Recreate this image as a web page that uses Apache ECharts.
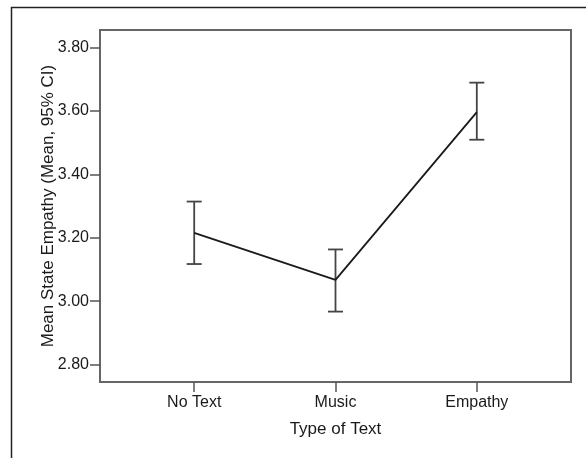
<!DOCTYPE html>
<html>
<head>
<meta charset="utf-8">
<script src="https://cdn.jsdelivr.net/npm/echarts@6/dist/echarts.min.js"></script>
<style>
html,body{margin:0;padding:0;background:#fff;}
#chart{width:586px;height:458px;}
</style>
</head>
<body>
<div id="chart"></div>
<script>
// Data
var categories = ['No Text', 'Music', 'Empathy'];
var means = [3.215, 3.067, 3.596];
var ciLower = [3.117, 2.967, 3.509];
var ciUpper = [3.314, 3.163, 3.689];
var yTicks = [2.8, 3.0, 3.2, 3.4, 3.6, 3.8];
var xTicks = [1, 2, 3];

var FONT = '"Liberation Sans", Arial, sans-serif';
var chart = echarts.init(document.getElementById('chart'), null, {renderer: 'canvas'});

var lineData = means.map(function (m, i) { return [xTicks[i], m]; });
var errData = ciLower.map(function (lo, i) { return [xTicks[i], lo, ciUpper[i]]; });

chart.setOption({
  animation: false,
  backgroundColor: '#fff',
  graphic: [{
    type: 'rect',
    left: 9, top: 5,
    shape: {width: 700, height: 600},
    style: {fill: 'none', stroke: '#222', lineWidth: 1.5},
    silent: true,
    z: -10
  }],
  grid: {
    left: 100, top: 30, right: 15, bottom: 76,
    show: true, borderColor: '#666', borderWidth: 2, backgroundColor: '#fff'
  },
  xAxis: {
    type: 'value',
    min: 1 / 3, max: 11 / 3,
    name: 'Type of Text',
    nameLocation: 'middle',
    nameGap: 39,
    nameMoveOverlap: false,
    nameTextStyle: {fontFamily: FONT, fontSize: 17, color: '#1a1a1a'},
    axisLine: {show: false},
    axisTick: {show: true, length: 10, inside: false, customValues: xTicks, lineStyle: {color: '#555', width: 1.5}},
    axisLabel: {
      customValues: xTicks, margin: 13,
      fontFamily: FONT, fontSize: 16, color: '#1a1a1a',
      formatter: function (v) { return categories[Math.round(v) - 1] || ''; }
    },
    splitLine: {show: false}
  },
  yAxis: {
    type: 'value',
    min: 2.745, max: 3.855,
    name: 'Mean State Empathy (Mean, 95% CI)',
    nameLocation: 'middle',
    nameGap: 43,
    nameMoveOverlap: false,
    nameTextStyle: {fontFamily: FONT, fontSize: 17, color: '#1a1a1a'},
    axisLine: {show: false},
    axisTick: {show: true, length: 10, inside: false, customValues: yTicks, lineStyle: {color: '#555', width: 1.5}},
    axisLabel: {
      customValues: yTicks, margin: 11,
      fontFamily: FONT, fontSize: 16, color: '#1a1a1a',
      formatter: function (v) { return v.toFixed(2); }
    },
    splitLine: {show: false}
  },
  series: [
    {
      type: 'line',
      data: lineData,
      symbol: 'none',
      lineStyle: {color: '#1a1a1a', width: 1.8},
      z: 3
    },
    {
      type: 'custom',
      data: errData,
      z: 2,
      renderItem: function (params, api) {
        var x = api.value(0);
        var lo = api.coord([x, api.value(1)]);
        var hi = api.coord([x, api.value(2)]);
        var hw = 7.5;
        var style = {stroke: '#444', lineWidth: 1.8, fill: 'none'};
        return {
          type: 'group',
          children: [
            {type: 'line', shape: {x1: hi[0], y1: hi[1], x2: lo[0], y2: lo[1]}, style: style},
            {type: 'line', shape: {x1: hi[0] - hw, y1: hi[1], x2: hi[0] + hw, y2: hi[1]}, style: style},
            {type: 'line', shape: {x1: lo[0] - hw, y1: lo[1], x2: lo[0] + hw, y2: lo[1]}, style: style}
          ]
        };
      }
    }
  ]
});
</script>
</body>
</html>
